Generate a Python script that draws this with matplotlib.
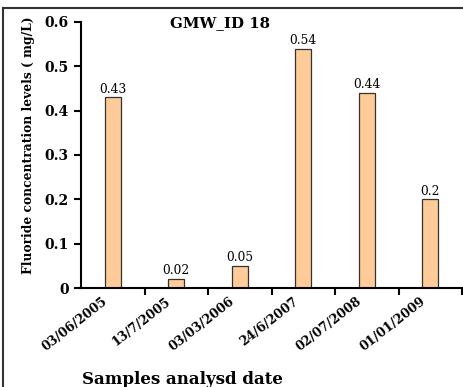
import matplotlib
matplotlib.use("Agg")
import matplotlib.pyplot as plt
from matplotlib.lines import Line2D

dates = ["03/06/2005", "13/7/2005", "03/03/2006", "24/6/2007", "02/07/2008", "01/01/2009"]
fluoride = [0.43, 0.02, 0.05, 0.54, 0.44, 0.2]
value_labels = ["0.43", "0.02", "0.05", "0.54", "0.44", "0.2"]
yticks = [0, 0.1, 0.2, 0.3, 0.4, 0.5, 0.6]
ytick_labels = ["0", "0.1", "0.2", "0.3", "0.4", "0.5", "0.6"]

serif = ["DejaVu Serif"]

fig = plt.figure(figsize=(4.64, 3.87), dpi=100)
ax = fig.add_axes([0.1746, 0.2558, 0.8211, 0.6874])

x = list(range(len(dates)))
ax.bar(x, fluoride, width=0.25, color="#FFCC99", edgecolor="#333333", linewidth=0.9)
for xi, v, lab in zip(x, fluoride, value_labels):
    ax.text(xi, v + 0.004, lab, ha="center", va="bottom", fontsize=8.8, family=serif)

ax.set_xlim(-0.5, len(dates) - 0.5)
ax.set_ylim(0, 0.6)
ax.set_yticks(yticks)
ax.set_yticklabels(ytick_labels, fontsize=10, fontweight="bold", family=serif)

# ticks sit on category boundaries; rotated date labels end just left of each bar
ax.set_xticks([i + 0.5 for i in range(len(dates))])
ax.set_xticklabels([])
ax.set_xticks([i - 0.17 for i in x], minor=True)
ax.set_xticklabels(dates, minor=True, rotation=38, ha="right", rotation_mode="anchor",
                   fontsize=9, fontweight="bold", family=serif)
ax.tick_params(axis="x", which="minor", length=0, pad=5)
ax.tick_params(axis="x", which="major", length=5, width=1.5, direction="out")
ax.tick_params(axis="y", length=5, width=1.5, direction="out", pad=4)

for s in ("top", "right"):
    ax.spines[s].set_visible(False)
for s in ("left", "bottom"):
    ax.spines[s].set_linewidth(1.5)

ax.set_ylabel("Fluoride concentration levels ( mg/L)", fontsize=8.8, fontweight="bold",
              family=serif)
ax.yaxis.set_label_coords(-(81 - 35) / 381, 0.538)
fig.text(220 / 464, 1 - 23 / 387, "GMW_ID 18", ha="center", va="center", fontsize=10.8,
         fontweight="bold", family=serif)
fig.text(82 / 464, 1 - 380 / 387, "Samples analysd date", ha="left", va="center",
         fontsize=12, fontweight="bold", family=serif)

# outer frame
fig.add_artist(Line2D([3 / 464, 1], [1 - 8 / 387, 1 - 8 / 387], transform=fig.transFigure,
                      color="#333333", linewidth=1.5))
fig.add_artist(Line2D([3 / 464, 3 / 464], [0, 1 - 8 / 387], transform=fig.transFigure,
                      color="#333333", linewidth=1.5))

fig.savefig("out.png", dpi=100)
